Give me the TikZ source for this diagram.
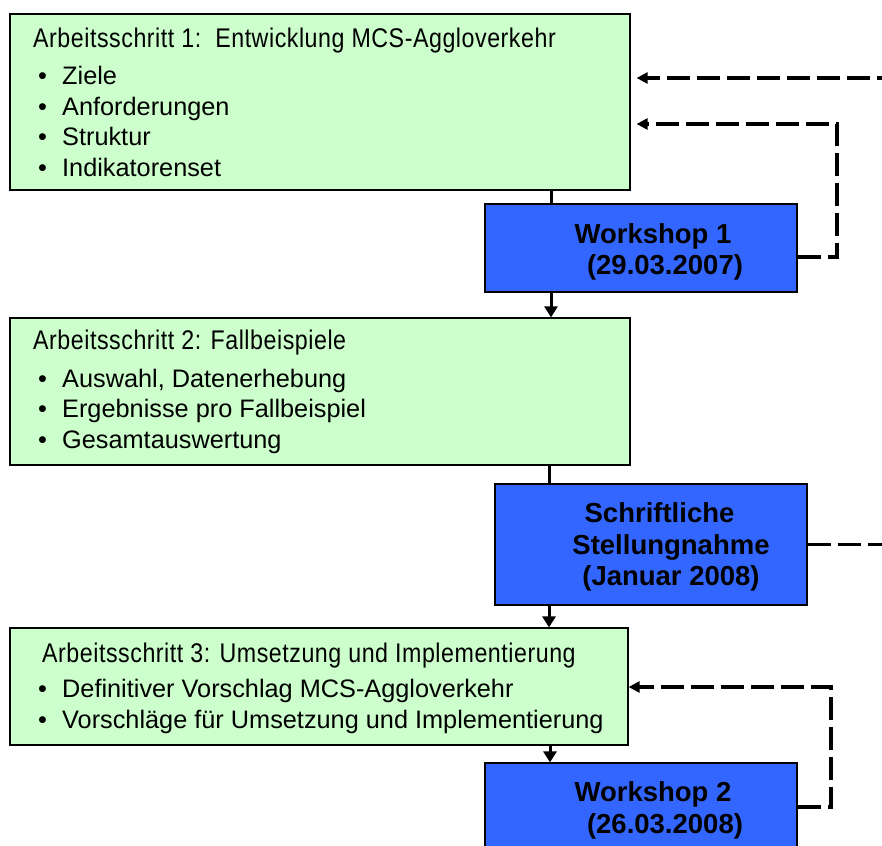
\documentclass[tikz,border=0pt]{standalone}
\usepackage{fontspec}
\setmainfont{Liberation Sans}
\newfontfamily\headfont[FakeStretch=0.86,LetterSpace=2]{Liberation Sans}
\usetikzlibrary{arrows.meta}

\definecolor{stepgreen}{HTML}{CCFFCC}
\definecolor{meetblue}{HTML}{3366FF}

\begin{document}
\begin{tikzpicture}[x=1pt, y=-1pt,
        stepbox/.style={rectangle, draw=black, line width=1.2pt, fill=stepgreen, inner sep=0pt},
        meetbox/.style={rectangle, draw=black, line width=1.2pt, fill=meetblue, inner sep=0pt,
            minimum width=312pt},
        head/.style={anchor=base west, inner sep=0pt, font=\headfont\fontsize{27}{30}\selectfont},
        item/.style={anchor=base west, inner sep=0pt, font=\fontsize{25.3}{30}\selectfont},
        meettext/.style={anchor=base, inner sep=0pt, font=\bfseries\fontsize{27.5}{33}\selectfont},
        flow/.style={line width=3pt},
        feedback/.style={line width=3.5pt, dash pattern=on 23pt off 7pt,
            -{Triangle[length=11pt, width=11pt]}}]

    \useasboundingbox (0,0) rectangle (882,845);

    % Kaesten
    \node[stepbox, minimum width=620pt, minimum height=176pt] (box1) at (320,102) {};
    \node[meetbox, minimum height=88pt] (ws1) at (641,248) {};
    \node[stepbox, minimum width=620pt, minimum height=147pt] (box2) at (320,391.5) {};
    \node[meetbox, minimum height=121pt] (sn) at (651,544.5) {};
    \node[stepbox, minimum width=618pt, minimum height=117pt] (box3) at (319,686.5) {};
    \node[meetbox, minimum height=88pt] (ws2) at (641,807) {};

    % Arbeitsschritt 1
    \node[head] (h1) at (33,48) {Arbeitsschritt 1:\ \ Entwicklung MCS-Aggloverkehr};
    \node[item] (i11) at (38,84.5) {\makebox[24pt][l]{•}Ziele};
    \node[item] (i12) at (38,115.2) {\makebox[24pt][l]{•}Anforderungen};
    \node[item] (i13) at (38,145.9) {\makebox[24pt][l]{•}Struktur};
    \node[item] (i14) at (38,176.5) {\makebox[24pt][l]{•}Indikatorenset};

    % Arbeitsschritt 2
    \node[head] (h2) at (33,349) {Arbeitsschritt 2: Fallbeispiele};
    \node[item] (i21) at (38,387) {\makebox[24pt][l]{•}Auswahl, Datenerhebung};
    \node[item] (i22) at (38,417.5) {\makebox[24pt][l]{•}Ergebnisse pro Fallbeispiel};
    \node[item] (i23) at (38,448) {\makebox[24pt][l]{•}Gesamtauswertung};

    % Arbeitsschritt 3
    \node[head] (h3) at (42,662) {Arbeitsschritt 3: Umsetzung und Implementierung};
    \node[item] (i31) at (38,697) {\makebox[24pt][l]{•}Definitiver Vorschlag MCS-Aggloverkehr};
    \node[item] (i32) at (38,728) {\makebox[24pt][l]{•}Vorschläge für Umsetzung und Implementierung};

    % Workshops und Stellungnahme
    \node[meettext] (ws1a) at (653,243) {Workshop 1};
    \node[meettext] (ws1b) at (665,274.5) {(29.03.2007)};
    \node[meettext] (sna) at (659.5,522) {Schriftliche};
    \node[meettext] (snb) at (671,554) {Stellungnahme};
    \node[meettext] (snc) at (671,585) {(Januar 2008)};
    \node[meettext] (ws2a) at (653,801) {Workshop 2};
    \node[meettext] (ws2b) at (665,833) {(26.03.2008)};

    % Verbindungen
    \coordinate (c1) at (551,0);
    \coordinate (c2) at (549,0);
    \coordinate (c3) at (550,0);
    \draw[flow] (box1.south -| c1) -- (ws1.north -| c1);
    \draw[flow, -{Triangle[length=11pt, width=13pt]}] (ws1.south -| c1) -- (box2.north -| c1);
    \draw[flow] (box2.south -| c2) -- (sn.north -| c2);
    \draw[flow, -{Triangle[length=11pt, width=13pt]}] (sn.south -| c2) -- (box3.north -| c2);
    \draw[flow, -{Triangle[length=11pt, width=13pt]}] (box3.south -| c3) -- (ws2.north -| c3);

    % Rueckkopplungen
    \coordinate (fbin) at (900,78);
    \coordinate (fb1) at (837,124);
    \coordinate (fbout) at (900,545);
    \coordinate (fb2) at (831,687);
    \draw[feedback, shorten >=6pt] (fbin) -- (fbin -| box1.east);
    \draw[feedback, shorten >=6pt] ([yshift=-9pt]ws1.east) -| (fb1) -- (fb1 -| box1.east);
    \draw[line width=3.5pt, dash pattern=on 23pt off 7pt] (sn.east) -- (sn.east -| fbout);
    \draw[feedback] (ws2.east) -| (fb2) -- (fb2 -| box3.east);
\end{tikzpicture}
\end{document}
